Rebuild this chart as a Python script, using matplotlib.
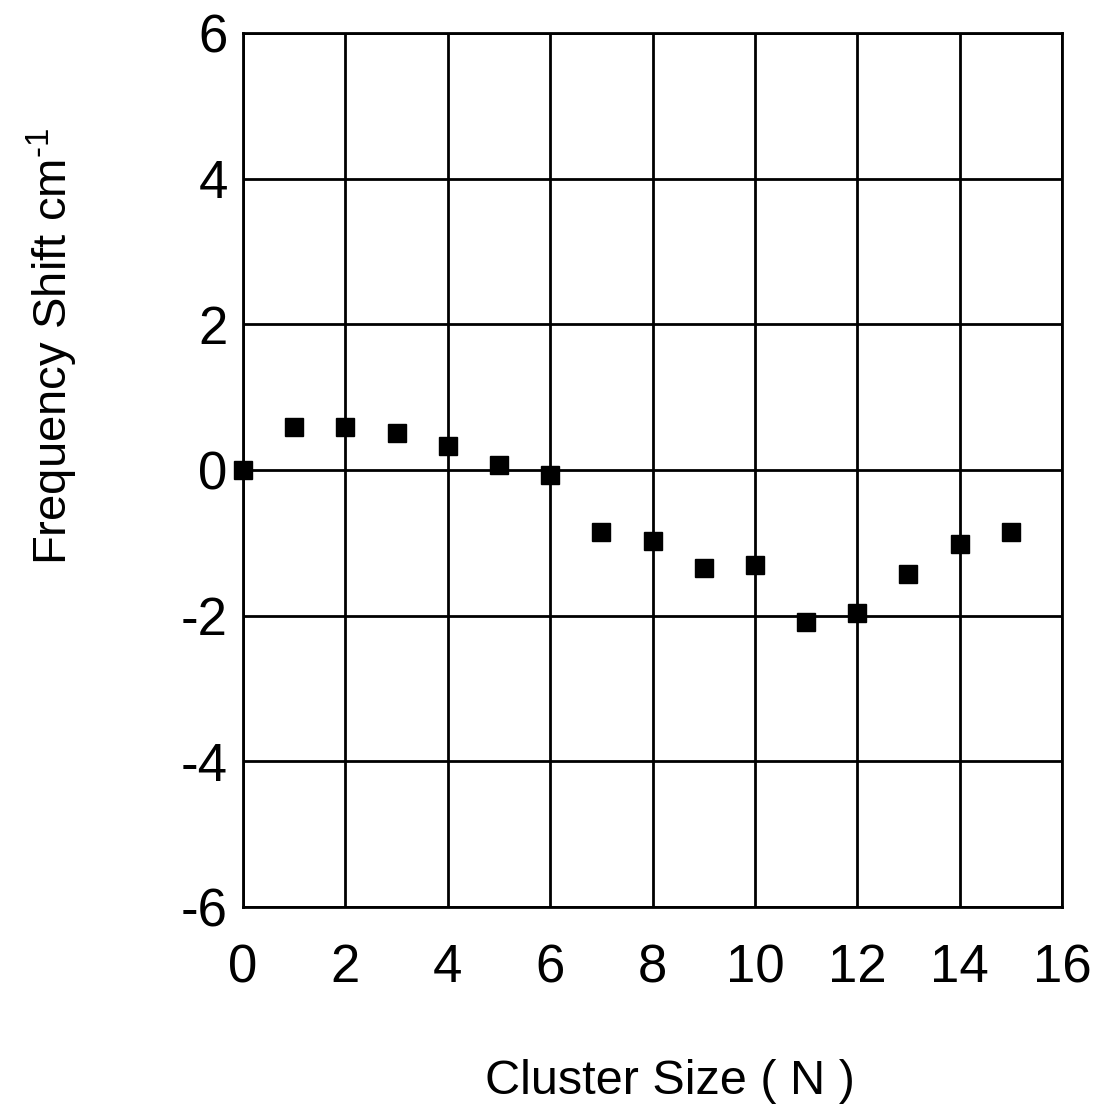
import matplotlib
matplotlib.use("Agg")
from matplotlib import pyplot as plt

cluster_size = [0, 1, 2, 3, 4, 5, 6, 7, 8, 9, 10, 11, 12, 13, 14, 15]
freq_shift = [0.0, 0.59, 0.59, 0.51, 0.33, 0.07, -0.07, -0.85, -0.98,
              -1.35, -1.31, -2.09, -1.96, -1.43, -1.02, -0.85]
x_ticks = [0, 2, 4, 6, 8, 10, 12, 14, 16]
y_ticks = [-6, -4, -2, 0, 2, 4, 6]

plt.rcParams['font.family'] = ['Liberation Sans', 'DejaVu Sans']
plt.rcParams['axes.unicode_minus'] = False
plt.rcParams['mathtext.fontset'] = 'custom'
plt.rcParams['mathtext.rm'] = 'Liberation Sans'

W, H = 1098, 1114
fig = plt.figure(figsize=(W / 100, H / 100), dpi=100)
ax = fig.add_axes([243 / W, 1 - 907 / H, 819 / W, 874 / H])

ax.plot(cluster_size, freq_shift, 's', color='black', markersize=13.5, clip_on=False, zorder=3)

ax.set_xlim(0, 16)
ax.set_ylim(-6, 6)
ax.set_xticks(x_ticks)
ax.set_yticks(y_ticks)
ax.set_xticklabels([str(v) for v in x_ticks])
ax.set_yticklabels([str(v) for v in y_ticks])
ax.grid(True, color='black', linewidth=2)
for s in ax.spines.values():
    s.set_linewidth(2)
ax.tick_params(length=0, labelsize=38)
ax.tick_params(axis='x', pad=26)
ax.tick_params(axis='y', pad=11)

fig.text(670 / W, 1 - 1082 / H, 'Cluster Size ( N )', fontsize=35, ha='center', va='center')
fig.text(52 / W, 1 - 346 / H, 'Frequency Shift cm$^{\\text{-}1}$', fontsize=34,
         rotation=90, ha='center', va='center')

fig.savefig('out.png', dpi=100)
